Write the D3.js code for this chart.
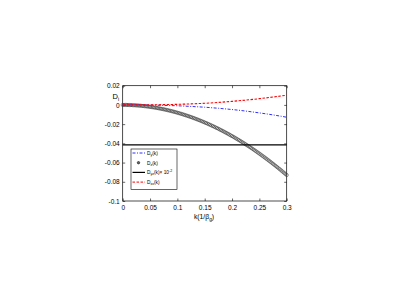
<!DOCTYPE html>
<html>
<head>
<meta charset="utf-8">
<script src="https://cdn.jsdelivr.net/npm/d3@7"></script>
<style>
  body { margin: 0; background: #fff; }
  svg { display: block; font-family: "Liberation Sans", Arial, sans-serif; }
</style>
</head>
<body>
<svg width="409" height="288"></svg>
<script>
// data
const kFine = d3.range(0, 121).map(i => i * 0.0025);
const dz = [0, -0.000005, -0.00002, -0.000046, -0.00008, -0.000127, -0.00018, -0.000248, -0.00032, -0.00041,
  -0.00051, -0.00061, -0.00073, -0.00086, -0.00099, -0.00114, -0.0013, -0.00147, -0.00164, -0.00183,
  -0.00203, -0.00224, -0.00245, -0.00268, -0.00292, -0.00317, -0.00343, -0.0037, -0.00397, -0.00426,
  -0.00456, -0.00487, -0.00519, -0.00552, -0.00586, -0.00621, -0.00657, -0.00694, -0.00732, -0.00771,
  -0.00811, -0.00852, -0.00894, -0.00937, -0.00981, -0.01027, -0.01073, -0.0112, -0.01168, -0.01217,
  -0.01267, -0.01319, -0.01371, -0.01424, -0.01478, -0.01534, -0.0159, -0.01647, -0.01705, -0.01765,
  -0.01825, -0.01886, -0.01949, -0.02012, -0.02076, -0.02142, -0.02208, -0.02276, -0.02344, -0.02414,
  -0.02484, -0.02556, -0.02628, -0.02702, -0.02776, -0.02852, -0.02928, -0.03006, -0.03084, -0.03164,
  -0.03244, -0.03326, -0.03409, -0.03492, -0.03577, -0.03663, -0.03749, -0.03837, -0.03926, -0.04016,
  -0.04106, -0.04198, -0.04291, -0.04385, -0.04479, -0.04575, -0.04672, -0.0477, -0.04869, -0.04969,
  -0.05069, -0.05171, -0.05274, -0.05378, -0.05483, -0.05589, -0.05696, -0.05804, -0.05913, -0.06023,
  -0.06134, -0.06246, -0.06359, -0.06473, -0.06588, -0.06704, -0.06821, -0.0694, -0.07059, -0.07179, -0.073];

const kCoarse = [0, 0.025, 0.05, 0.075, 0.1, 0.125, 0.15, 0.175, 0.2, 0.225, 0.25, 0.275, 0.3];
const dy = [0, -0.00005, -0.0002, -0.0005, -0.0009, -0.0016, -0.0024, -0.0035, -0.0048, -0.0064, -0.0083, -0.0104, -0.0128];
const dxx = [0, 0.00003, 0.0001, 0.0003, 0.0006, 0.0011, 0.0017, 0.0026, 0.0037, 0.005, 0.0065, 0.0082, 0.0101];
const dyzLevel = -0.0415;

const xTicks = [0, 0.05, 0.1, 0.15, 0.2, 0.25, 0.3];
const yTicks = [0.02, 0, -0.02, -0.04, -0.06, -0.08, -0.1];

const svg = d3.select('svg');
const pl = 122.7, pr = 286.7, pt = 85.7, pb = 201;

const x = d3.scaleLinear().domain([0, 0.3]).range([pl, pr]);
const y = d3.scaleLinear().domain([-0.1, 0.02]).range([pb, pt]);

const fmt = d => d === 0 ? '0' : String(d);

// axes, MATLAB style box with inward ticks
const tickStyle = g => {
  g.selectAll('.domain').remove();
  g.selectAll('line').attr('stroke', '#000').attr('stroke-width', 0.6);
  g.selectAll('text').attr('font-size', 6.5).attr('fill', '#000');
};
svg.append('g').attr('transform', `translate(0,${pb})`)
  .call(d3.axisBottom(x).tickValues(xTicks).tickFormat(fmt).tickSizeInner(-2.5).tickSizeOuter(0).tickPadding(4))
  .call(tickStyle);
svg.append('g').attr('transform', `translate(0,${pt})`)
  .call(d3.axisTop(x).tickValues(xTicks).tickFormat('').tickSizeInner(-2.5).tickSizeOuter(0))
  .call(tickStyle);
svg.append('g').attr('transform', `translate(${pl},0)`)
  .call(d3.axisLeft(y).tickValues(yTicks).tickFormat(fmt).tickSizeInner(-2.5).tickSizeOuter(0).tickPadding(3))
  .call(tickStyle);
svg.append('g').attr('transform', `translate(${pr},0)`)
  .call(d3.axisRight(y).tickValues(yTicks).tickFormat('').tickSizeInner(-2.5).tickSizeOuter(0))
  .call(tickStyle);

svg.append('rect')
  .attr('x', pl).attr('y', pt)
  .attr('width', pr - pl).attr('height', pb - pt)
  .attr('fill', 'none').attr('stroke', '#000').attr('stroke-width', 0.7);

const line = d3.line().x(d => x(d[0])).y(d => y(d[1])).curve(d3.curveMonotoneX);

// D_z markers (dense, overlapping)
svg.append('g').selectAll('circle')
  .data(kFine.map((k, i) => [k, dz[i]]))
  .enter().append('circle')
  .attr('cx', d => x(d[0])).attr('cy', d => y(d[1]))
  .attr('r', 1.6)
  .attr('fill', 'none').attr('stroke', '#333').attr('stroke-width', 0.55);

// horizontal black line
svg.append('line')
  .attr('x1', x(0)).attr('x2', x(0.3))
  .attr('y1', y(dyzLevel)).attr('y2', y(dyzLevel))
  .attr('stroke', '#000').attr('stroke-width', 1.2);

svg.append('path')
  .datum(kCoarse.map((k, i) => [k, dy[i]]))
  .attr('d', line).attr('fill', 'none')
  .attr('stroke', '#3030ff').attr('stroke-width', 1)
  .attr('stroke-dasharray', '3,1.5,1,1.5');

svg.append('path')
  .datum(kCoarse.map((k, i) => [k, dxx[i]]))
  .attr('d', line).attr('fill', 'none')
  .attr('stroke', '#ff0000').attr('stroke-width', 1.1)
  .attr('stroke-dasharray', '2.5,1.5');

// legend
const lg = svg.append('g');
lg.append('rect').attr('x', 131).attr('y', 149).attr('width', 46).attr('height', 40.5)
  .attr('fill', '#fff').attr('stroke', '#000').attr('stroke-width', 0.6);

const entries = [
  { sub: 'y', type: 'dashdot' },
  { sub: 'z', type: 'marker' },
  { sub: 'yz', type: 'solid', extra: true },
  { sub: 'xx', type: 'dash' }
];
entries.forEach((e, i) => {
  const cy = 153 + i * 9.7;
  if (e.type === 'marker') {
    lg.append('circle').attr('cx', 138.5).attr('cy', cy).attr('r', 1.2)
      .attr('fill', '#666').attr('stroke', '#222').attr('stroke-width', 0.7);
  } else {
    lg.append('line').attr('x1', 132.5).attr('x2', 145).attr('y1', cy).attr('y2', cy)
      .attr('stroke', e.type === 'dashdot' ? '#3030ff' : e.type === 'dash' ? '#ff0000' : '#000')
      .attr('stroke-width', e.type === 'solid' ? 1.2 : 1)
      .attr('stroke-dasharray', e.type === 'dashdot' ? '3,1.5,1,1.5' : e.type === 'dash' ? '2.5,1.5' : null);
  }
  const t = lg.append('text').attr('x', 147).attr('y', cy + 1.8)
    .attr('font-size', 4.8).attr('fill', '#000');
  t.append('tspan').text('D');
  t.append('tspan').attr('font-size', 3.5).attr('dy', 1.2).text(e.sub);
  t.append('tspan').attr('dy', -1.2).text('(k)' + (e.extra ? '\u00d7 10' : ''));
  if (e.extra) t.append('tspan').attr('font-size', 3.5).attr('dy', -1.8).text('-2');
});

// axis labels
const yl = svg.append('text').attr('x', 112.5).attr('y', 99).attr('font-size', 7.5).attr('fill', '#000');
yl.append('tspan').text('D');
yl.append('tspan').attr('font-size', 5).attr('dy', 1.8).text('i');

const xl = svg.append('text').attr('x', 204).attr('y', 219).attr('text-anchor', 'middle')
  .attr('font-size', 6.8).attr('fill', '#000');
xl.append('tspan').text('k(1/\u03b2');
xl.append('tspan').attr('font-size', 4.8).attr('dy', 1.8).text('g');
xl.append('tspan').attr('dy', -1.8).text(')');
</script>
</body>
</html>
